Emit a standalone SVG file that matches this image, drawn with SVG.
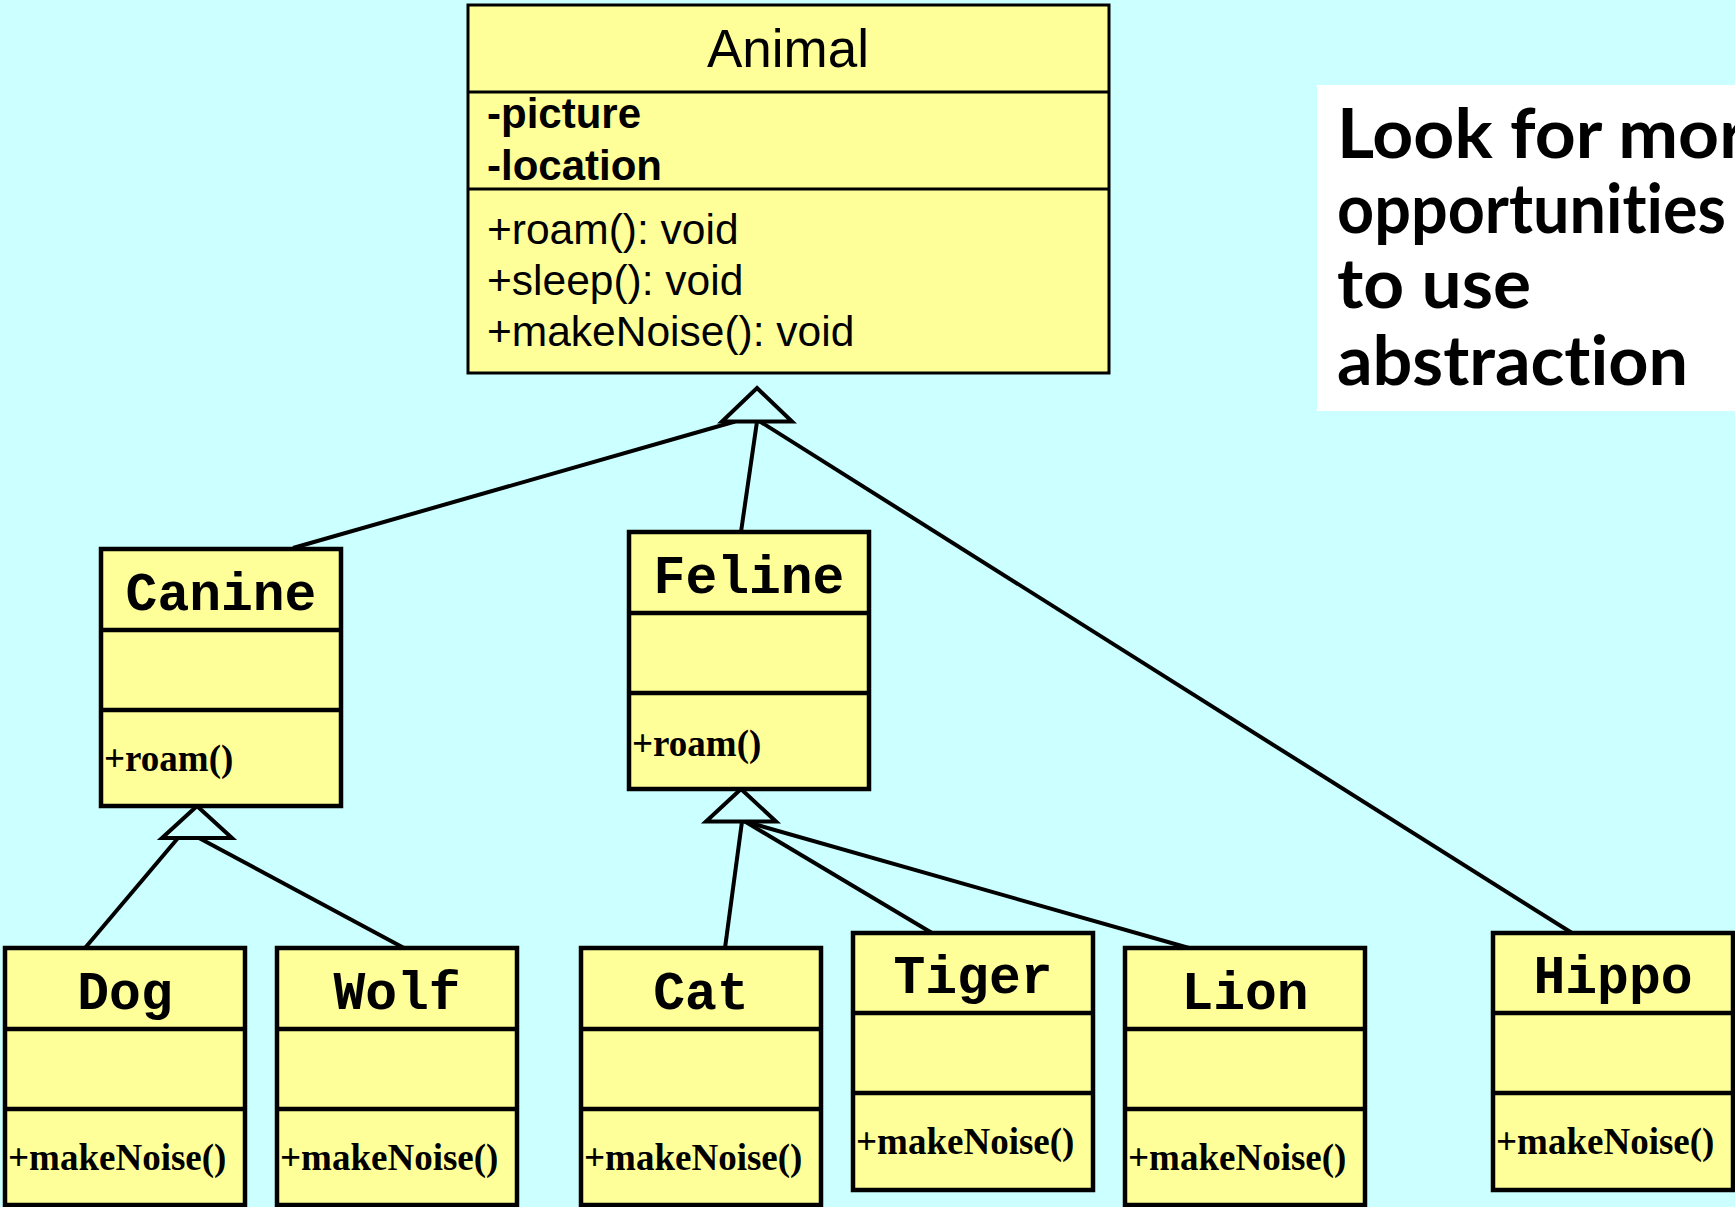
<svg xmlns="http://www.w3.org/2000/svg" width="1735" height="1207" viewBox="0 0 1735 1207">
  <style>
    .box { fill: #FFFF99; stroke: #000; stroke-width: 4.5; }
    .sep { stroke: #000; stroke-width: 4.5; }
    .abox { fill: #FFFF99; stroke: #000; stroke-width: 3; }
    .asep { stroke: #000; stroke-width: 3; }
    .name { font-family: "Liberation Mono", "Courier New", monospace; font-weight: bold; font-size: 53px; text-anchor: middle; fill: #000; }
    .op { font-family: "Liberation Serif", "Times New Roman", serif; font-weight: bold; font-size: 37px; fill: #000; }
    .aname { font-family: "Liberation Sans", Arial, sans-serif; font-size: 53px; text-anchor: middle; fill: #000; }
    .attr { font-family: "Liberation Sans", Arial, sans-serif; font-weight: bold; font-size: 42px; fill: #000; }
    .meth { font-family: "Liberation Sans", Arial, sans-serif; font-size: 42.5px; fill: #000; }
    .note { font-family: Lato, "DejaVu Sans", sans-serif; font-weight: bold; font-size: 68px; fill: #000; font-variant-ligatures: none; }
    .link { stroke: #000; stroke-width: 4; fill: none; }
    .tri { fill: #CCFFFF; stroke: #000; stroke-width: 4; stroke-linejoin: miter; }
  </style>

  <rect x="0" y="0" width="1735" height="1207" fill="#CCFFFF"/>

  <!-- generalization connectors -->
  <g id="connectors">
    <line class="link" x1="735" y1="421.5" x2="293" y2="548"/>
    <line class="link" x1="757" y1="421.5" x2="741" y2="532"/>
    <line class="link" x1="760" y1="421.5" x2="1572" y2="933"/>
    <line class="link" x1="178" y1="838" x2="85" y2="948"/>
    <line class="link" x1="199" y1="838" x2="404" y2="948"/>
    <line class="link" x1="742" y1="821.5" x2="725" y2="948"/>
    <line class="link" x1="745" y1="821.5" x2="932" y2="933"/>
    <line class="link" x1="745" y1="821.5" x2="1189" y2="948"/>
    <polygon class="tri" points="757,388 792,421.5 722,421.5"/>
    <polygon class="tri" points="197,806 232,838 162,838"/>
    <polygon class="tri" points="741,789 776,821.5 706,821.5"/>
  </g>

  <g id="animal">
    <rect class="abox" x="468" y="5" width="641" height="368"/>
    <line class="asep" x1="468" y1="92" x2="1109" y2="92"/>
    <line class="asep" x1="468" y1="189" x2="1109" y2="189"/>
    <text class="aname" x="788" y="67">Animal</text>
    <text class="attr" x="487" y="128">-picture</text>
    <text class="attr" x="487" y="180">-location</text>
    <text class="meth" x="487" y="244">+roam(): void</text>
    <text class="meth" x="487" y="295">+sleep(): void</text>
    <text class="meth" x="487" y="346">+makeNoise(): void</text>
  </g>

  <g id="canine">
    <rect class="box" x="101" y="549" width="240" height="257"/>
    <line class="sep" x1="101" y1="630" x2="341" y2="630"/>
    <line class="sep" x1="101" y1="710" x2="341" y2="710"/>
    <text class="name" x="221" y="610">Canine</text>
    <text class="op" x="104" y="771">+roam()</text>
  </g>

  <g id="feline">
    <rect class="box" x="629" y="532" width="240" height="257"/>
    <line class="sep" x1="629" y1="613" x2="869" y2="613"/>
    <line class="sep" x1="629" y1="693" x2="869" y2="693"/>
    <text class="name" x="749" y="593">Feline</text>
    <text class="op" x="632" y="756">+roam()</text>
  </g>

  <g id="dog">
    <rect class="box" x="5" y="948" width="240" height="257"/>
    <line class="sep" x1="5" y1="1029" x2="245" y2="1029"/>
    <line class="sep" x1="5" y1="1109" x2="245" y2="1109"/>
    <text class="name" x="125" y="1009">Dog</text>
    <text class="op" x="8" y="1170">+makeNoise()</text>
  </g>

  <g id="wolf">
    <rect class="box" x="277" y="948" width="240" height="257"/>
    <line class="sep" x1="277" y1="1029" x2="517" y2="1029"/>
    <line class="sep" x1="277" y1="1109" x2="517" y2="1109"/>
    <text class="name" x="397" y="1009">Wolf</text>
    <text class="op" x="280" y="1170">+makeNoise()</text>
  </g>

  <g id="cat">
    <rect class="box" x="581" y="948" width="240" height="257"/>
    <line class="sep" x1="581" y1="1029" x2="821" y2="1029"/>
    <line class="sep" x1="581" y1="1109" x2="821" y2="1109"/>
    <text class="name" x="701" y="1009">Cat</text>
    <text class="op" x="584" y="1170">+makeNoise()</text>
  </g>

  <g id="tiger">
    <rect class="box" x="853" y="933" width="240" height="257"/>
    <line class="sep" x1="853" y1="1013" x2="1093" y2="1013"/>
    <line class="sep" x1="853" y1="1093" x2="1093" y2="1093"/>
    <text class="name" x="973" y="993">Tiger</text>
    <text class="op" x="856" y="1154">+makeNoise()</text>
  </g>

  <g id="lion">
    <rect class="box" x="1125" y="948" width="240" height="257"/>
    <line class="sep" x1="1125" y1="1029" x2="1365" y2="1029"/>
    <line class="sep" x1="1125" y1="1109" x2="1365" y2="1109"/>
    <text class="name" x="1245" y="1009">Lion</text>
    <text class="op" x="1128" y="1170">+makeNoise()</text>
  </g>

  <g id="hippo">
    <rect class="box" x="1493" y="933" width="240" height="257"/>
    <line class="sep" x1="1493" y1="1013" x2="1733" y2="1013"/>
    <line class="sep" x1="1493" y1="1093" x2="1733" y2="1093"/>
    <text class="name" x="1613" y="993">Hippo</text>
    <text class="op" x="1496" y="1154">+makeNoise()</text>
  </g>

  <!-- side remark; its first line runs past the right edge -->
  <g id="note">
    <rect x="1317" y="85" width="430" height="326" fill="#FFFFFF"/>
    <text class="note" x="1337" y="158" textLength="446" lengthAdjust="spacingAndGlyphs">Look for more</text>
    <text class="note" x="1337" y="233" textLength="389" lengthAdjust="spacingAndGlyphs">opportunities</text>
    <text class="note" x="1337" y="308" textLength="194" lengthAdjust="spacingAndGlyphs">to use</text>
    <text class="note" x="1337" y="385" textLength="351" lengthAdjust="spacingAndGlyphs">abstraction</text>
  </g>
</svg>
